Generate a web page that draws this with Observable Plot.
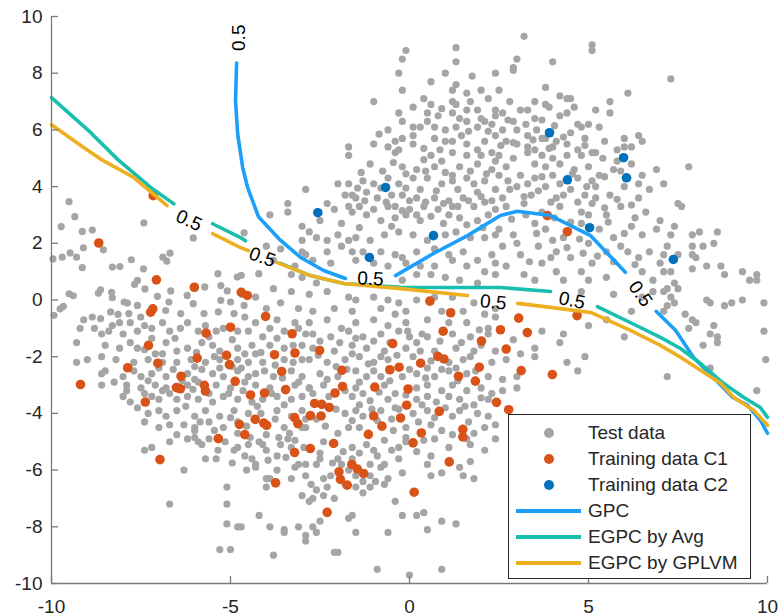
<!DOCTYPE html>
<html>
<head>
<meta charset="utf-8">
<script src="https://cdn.jsdelivr.net/npm/d3@7"></script>
<script src="https://cdn.jsdelivr.net/npm/@observablehq/plot@0.6"></script>
<style>
  body { margin: 0; background: #fff; }
  #wrap { position: relative; width: 780px; height: 616px; overflow: hidden; }
  #legend { position: absolute; left: 508px; top: 414px; width: 243px; height: 165px; box-sizing: border-box;
            border: 1px solid #262626; background: #fff;
            font-family: "Liberation Sans", Arial, sans-serif; font-size: 19px; color: #262626; }
  .item { position: absolute; left: 0; width: 100%; height: 26px; }
  .mk { position: absolute; left: 35px; top: 8px; width: 10px; height: 10px; border-radius: 50%; }
  .ln { position: absolute; left: 7px; top: 11px; width: 65px; height: 4px; }
  .tx { position: absolute; left: 79px; top: 2px; line-height: 22px; white-space: nowrap; }
</style>
</head>
<body>
<div id="wrap"></div>
<script>
// ---------- data ----------
const xTicks = [-10, -5, 0, 5, 10];
const yTicks = [-10, -8, -6, -4, -2, 0, 2, 4, 6, 8, 10];
const contourLevel = "0.5";

// Test data (grey)
const testData = [
[-9.51,3.47],[-9.35,2.94],[-9.73,2.59],[-9.14,2.42],[-8.86,2.47],[-9.96,1.45],[-9.70,1.51],[-9.48,1.66],[-9.30,1.51],[-9.11,1.84],[-9.14,1.14],[-8.55,1.77],[-8.30,1.16],[-8.09,1.18],[-7.77,1.42],[-7.43,1.10],[-7.42,2.72],[-6.69,1.65],[-6.89,1.51],[-6.78,1.37],[-6.04,2.19],[-7.60,0.69],[-7.39,0.39],[-7.68,0.55],[-8.63,0.36],[-8.69,0.24],[-8.32,0.27],[-8.30,0.08],[-7.97,-0.07],[-7.88,-0.11],[-7.60,-0.19],[-9.51,0.22],[-9.39,0.15],[-9.76,-0.31],[-9.67,-0.22],[-9.93,-0.54],[-8.86,-0.60],[-8.63,-0.66],[-8.35,-0.42],[-8.14,-0.51],[-7.84,-0.48],[-7.04,0.13],[-6.67,0.32],[-6.72,-0.07],[-6.21,0.16],[-6.04,-0.13],[-5.72,0.46],[-5.35,0.93],[-5.27,0.51],[-5.09,0.32],[-5.27,-0.01],[-5.00,-0.07],[-4.81,0.81],[-4.70,0.87],[-4.67,0.20],[-4.30,0.10],[-4.62,-0.19],[-4.60,-0.60],[-4.90,-0.48],[-5.34,-0.42],[-5.74,-0.48],[-6.39,-0.48],[-6.81,-0.37],[-4.62,2.37],[-4.21,0.93],[-7.51,-0.60],
[-1.7,5.1],[-0.4,5.2],[0.6,5.1],[1.2,5.2],[1.6,5.1],[2.0,5.1],[2.3,5.2],[2.4,4.9],
[-1.1,4.8],[-0.2,4.7],[0.2,4.6],[0.7,4.7],[1.0,4.5],[1.4,4.7],[1.9,4.8],[2.3,4.6],[2.5,4.4],
[-2.9,3.9],[-2.0,4.1],[-1.7,4.1],[-1.3,4.2],[-1.0,4.1],[-0.6,4.3],[-0.3,4.1],[0.1,4.3],[0.5,4.3],[0.9,4.1],[1.2,4.2],[1.6,4.3],[2.1,4.2],[2.4,3.9],
[-1.8,3.7],[-1.6,3.7],[-1.5,3.6],[-1.2,3.8],[-0.9,3.6],[-0.5,3.7],[-0.2,3.7],[0.2,3.6],[0.7,3.6],[1.1,3.5],[1.5,3.6],[1.9,3.8],[2.3,3.5],
[-3.4,3.4],[-2.3,3.4],[-1.7,3.3],[-1.4,3.3],[-1.0,3.2],[-0.6,3.3],[-0.4,3.3],[0.0,3.2],[0.4,3.3],[0.8,3.2],[1.2,3.3],[1.8,3.3],[2.4,3.2],
[-3.4,3.1],[-3.9,3.0],[-3.0,2.6],[-2.8,2.4],[-1.9,2.7],[-1.6,3.1],[-1.2,3.0],[-0.8,2.8],[-0.4,2.9],[-0.1,3.0],[0.3,2.8],[1.1,3.0],[1.4,2.9],[1.9,2.8],[2.2,3.0],
[-3.0,2.1],[-2.6,2.2],[-2.3,2.1],[-2.0,2.3],[-1.7,2.1],[-1.5,2.2],[-1.1,2.1],[-0.7,2.3],[-0.3,2.4],[0.1,2.3],[0.5,2.1],[1.0,2.3],[1.3,2.4],[1.7,2.2],[2.1,2.2],[2.4,2.3],
[-4.0,1.9],[-3.6,1.8],[-3.0,1.7],[-2.9,1.6],[-2.3,1.7],[-1.9,1.9],[-1.6,1.7],[-1.3,1.7],[-0.8,1.7],[-0.4,1.6],[-0.2,1.5],[0.2,1.7],[0.7,1.8],[1.1,1.6],[1.5,1.7],[1.9,1.4],[2.3,1.6],
[-3.8,1.4],[-3.2,1.2],[-2.7,1.4],[-2.2,1.3],[-1.5,1.4],[-1.0,1.3],[-0.6,1.2],[-0.1,1.3],[0.3,1.2],[0.7,1.2],[1.2,1.4],[1.6,1.2],[2.1,1.0],[2.4,1.3],
[-3.3,0.9],[-3.0,0.8],[-2.6,0.6],[-0.2,0.7],[0.2,0.9],[0.6,0.9],[1.0,0.8],[1.4,0.7],[1.9,0.6],[2.4,0.9],
[-3.8,0.4],[-3.3,0.3],[-2.8,0.2],[-2.3,0.3],[-1.7,0.1],[-1.5,0.0],[-1.0,0.1],[-0.6,0.0],[-0.3,-0.1],[0.2,0.0],[0.7,0.1],[1.2,0.1],[1.8,-0.1],[2.4,-0.3],
[-4.0,-0.3],[-3.6,-0.1],[-3.1,-0.3],[-2.7,-0.4],[-2.1,-0.3],[-1.6,-0.4],[-0.8,-0.3],[-0.4,-0.5],[-0.1,-0.4],[0.9,-0.4],[1.5,-0.4],[2.1,-0.5],[2.4,-0.6],
[-3.7,-0.7],[-3.2,-0.8],[-2.8,-0.8],[-2.3,-0.7],[-1.9,-1.0],[-1.5,-0.8],[-1.0,-0.7],[-0.6,-0.9],[-0.1,-0.8],[0.5,-0.7],[1.1,-0.8],[1.6,-0.8],[2.2,-1.0],
[3.2,9.3],[1.3,8.9],[-0.1,8.8],[1.3,8.4],[-0.2,8.5],[5.1,9.0],[5.1,8.8],[3.0,8.5],[2.9,8.2],[2.9,8.1],[2.4,8.0],[1.0,8.0],[-0.3,8.0],[4.0,8.4],[7.3,7.8],[1.3,7.6],[-0.2,7.4],[2.5,7.4],[1.2,7.4],[4.2,7.2],[4.4,7.1],[4.5,7.1],[3.5,7.0],[3.3,6.7],[2.0,7.4],[2.2,7.1],[-1.0,7.0],[1.2,7.0],[1.3,6.9],[1.7,7.0],[0.6,6.9],[0.1,6.8],[-0.3,6.6],[-0.2,6.3],[3.9,6.8],[4.2,6.5],[5.2,6.7],[5.6,7.0],[5.6,6.6],[6.1,7.3],[0.5,6.3],[0.8,6.5],[1.2,6.6],[1.4,6.4],[1.6,6.7],[2.0,6.4],[2.4,6.7],[2.6,6.6],[2.1,6.3],[2.3,6.2],[2.4,6.5],[2.9,6.3],[3.1,6.7],[3.5,6.4],[3.8,6.9],[0.1,6.1],[0.3,6.1],[0.7,6.1],[1.0,6.0],[1.3,6.1],[1.6,6.3],[1.9,6.1],[2.6,6.0],[3.0,6.0],[3.3,5.8],[3.7,5.7],[4.7,6.2],[4.8,6.1],[5.0,6.2],[5.3,6.1],[4.9,5.7],[4.5,5.9],[-0.4,5.6],[-0.2,5.7],[0.1,5.8],[0.7,5.7],[1.0,5.6],[1.2,5.6],[1.6,5.5],[2.1,5.6],[2.4,5.8],[2.7,5.6],[4.1,5.6],[4.4,5.5],[5.2,5.2],[5.8,5.3],[6.0,5.7],[6.4,5.8],[6.5,5.6],[7.8,4.7],[-1.7,5.4],[-1.0,5.5],[-0.6,5.4],[-0.3,5.3],[0.1,5.5],[3.0,5.5],[3.3,5.4],[3.5,5.3],[3.8,5.7],[4.0,5.4],[4.7,5.3],[6.0,5.4],[6.2,5.4],
[2.5,5.1],[2.9,5.0],[3.3,5.2],[3.7,5.1],[4.0,5.0],[4.4,5.1],[4.8,5.1],[5.1,5.2],[5.4,5.0],[5.8,4.9],[6.2,4.8],[6.5,4.4],[6.9,4.6],[7.5,3.4],[7.6,3.3],[3.5,4.8],[3.8,4.7],[4.2,4.8],[4.6,4.6],[5.0,4.7],[5.3,4.4],[5.7,4.6],[6.1,4.3],[2.7,4.7],[3.1,4.4],[3.5,4.3],[4.0,4.4],[4.7,4.3],[5.1,4.2],
[2.6,3.6],[3.0,4.0],[3.4,3.7],[3.8,4.0],[4.1,3.6],[4.5,3.9],[4.9,3.7],[5.2,4.0],[5.6,3.7],[6.0,4.0],[6.4,3.6],[6.7,3.9],[7.1,4.1],
[2.7,3.3],[3.2,3.4],[3.7,3.1],[4.2,3.3],[4.8,3.1],[5.1,3.4],[5.5,3.0],[5.9,3.3],[6.3,2.9],[6.6,3.1],[7.0,2.8],
[2.5,2.5],[2.9,2.3],[3.5,2.7],[3.8,2.5],[4.3,2.2],[4.8,2.7],[5.3,2.5],[5.7,2.2],[6.2,2.6],[6.5,2.3],[6.9,2.5],
[2.6,1.9],[3.1,1.6],[3.6,1.9],[4.1,1.7],[4.5,1.5],[5.0,2.0],[5.5,1.7],[5.9,1.9],[6.4,1.5],[6.7,1.7],
[2.7,1.2],[3.2,0.9],[3.7,1.3],[4.1,1.0],[4.8,1.0],[5.1,1.3],[5.5,0.8],[6.5,1.0],[6.8,0.7],
[3.5,0.7],[4.3,0.7],[4.8,0.3],[5.0,0.7],[5.7,0.2],[6.2,-0.4],[6.5,0.1],[6.8,0.3],
[4.3,-1.2],[4.2,-1.5],[4.4,-2.2],[4.7,-2.5],[4.9,-2.0],[6.0,-1.3],[5.0,-0.9],[5.5,-0.7],
[7.4,2.6],[7.3,2.3],[7.9,2.3],[8.1,2.4],[8.6,2.4],[8.5,2.0],[8.2,1.9],[7.9,1.9],[7.9,1.6],[8.0,1.5],[7.2,1.9],[7.5,1.6],[7.1,1.6],[7.0,1.3],[7.1,1.0],[7.3,1.0],[7.4,0.6],[7.5,0.4],[7.2,0.4],[7.1,0.3],[7.3,0.1],[7.4,-0.1],[7.2,-0.2],[7.1,-0.4],[7.7,-0.5],[7.9,-0.7],[8.0,-0.8],[8.5,-0.9],[7.8,-1.0],[8.3,0.0],[8.4,-0.1],[8.8,-0.2],[9.0,-0.1],[9.3,0.0],[9.9,-0.1],[8.7,1.2],[8.8,0.9],[9.3,1.0],[9.5,0.7],[9.7,0.9],[9.7,0.7],[8.3,1.2],[7.9,1.1],[8.6,-1.3],[8.6,-1.5],[8.2,-1.6],[8.4,-1.2],[9.95,-2.1],[9.9,-1.1],[8.4,-2.4],[7.2,-2.7],[9.7,-3.2],
[-9.3,-1.5],[-9.1,-0.7],[-9.2,-1.0],[-8.8,-1.0],[-8.6,-1.2],[-8.4,-1.1],[-8.3,-0.9],[-8.1,-0.8],[-7.8,-0.8],[-7.6,-1.1],[-7.4,-0.9],[-7.2,-1.0],[-6.9,-0.8],[-6.7,-1.1],[-6.4,-1.0],[-6.2,-0.8],[-5.9,-1.1],[-5.7,-0.9],[-5.4,-1.1],[-5.2,-1.0],[-4.8,-1.1],[-4.5,-1.1],[-4.3,-0.8],[-3.9,-1.0],[-3.5,-1.1],[-3.1,-1.0],[-2.9,-1.2],
[-9.0,-2.1],[-9.3,-2.2],[-8.5,-1.6],[-8.1,-1.7],[-7.8,-1.5],[-7.6,-1.7],[-7.1,-1.9],[-6.8,-1.5],[-6.5,-1.8],[-6.2,-1.7],[-5.8,-1.5],[-5.5,-1.6],[-5.3,-1.8],[-4.8,-1.7],[-4.4,-1.6],[-4.3,-1.9],[-3.9,-1.6],[-3.5,-1.7],[-3.0,-1.6],[-8.6,-2.0],[-8.2,-2.1],[-7.7,-2.2],[-7.3,-2.1],[-6.9,-2.2],[-6.5,-2.2],[-6.1,-2.1],[-5.7,-2.2],[-5.3,-2.1],[-4.8,-2.1],[-4.5,-2.2],[-4.1,-2.2],[-3.5,-2.1],[-3.0,-2.1],
[-8.6,-2.6],[-8.5,-2.5],[-8.0,-2.7],[-7.7,-2.5],[-7.5,-2.7],[-7.2,-2.6],[-7.0,-2.4],[-6.8,-2.7],[-6.2,-2.6],[-6.0,-2.8],[-5.5,-2.6],[-5.2,-2.7],[-4.8,-2.5],[-4.5,-2.7],[-4.3,-2.6],[-3.8,-2.7],[-3.3,-2.5],[-3.0,-2.7],[-7.9,-3.0],[-7.5,-3.1],[-7.1,-3.0],[-6.8,-3.1],[-6.2,-3.0],[-5.9,-2.9],[-5.4,-3.0],[-5.0,-3.1],[-4.6,-2.9],[-4.3,-3.0],[-3.9,-3.1],[-3.1,-2.9],[-2.8,-3.1],
[-8.6,-3.0],[-7.8,-3.6],[-7.9,-3.2],[-7.4,-3.3],[-7.2,-3.4],[-7.0,-3.5],[-6.7,-3.3],[-6.2,-3.4],[-5.9,-3.5],[-5.6,-3.3],[-5.2,-3.4],[-4.8,-3.5],[-4.4,-3.6],[-4.1,-3.5],[-3.7,-3.4],[-3.3,-3.5],[-3.0,-3.4],[-7.0,-3.9],[-6.8,-4.1],[-6.5,-3.9],[-6.0,-4.1],[-5.7,-3.9],[-5.3,-4.1],[-4.9,-3.9],[-4.5,-4.0],[-3.7,-3.9],[-3.3,-4.1],[-3.0,-3.9],[-7.4,-4.3],[-7.0,-4.5],[-6.3,-4.4],[-6.0,-4.5],[-5.6,-4.3],[-5.2,-4.5],[-4.8,-4.3],[-3.5,-4.5],[-3.0,-4.5],
[-2.7,-1.2],[-2.2,-1.3],[-1.7,-1.1],[-1.3,-1.3],[-0.8,-1.2],[-0.3,-1.1],[0.0,-1.3],[0.5,-1.3],[1.2,-1.2],[1.7,-1.3],[2.2,-1.2],[2.9,-1.4],[3.5,-1.7],[3.7,-1.1],[-2.7,-1.7],[-2.1,-1.8],[-1.6,-1.6],[-1.2,-1.7],[-0.7,-1.8],[-0.1,-1.7],[0.2,-1.5],[0.7,-1.8],[1.3,-1.7],[1.8,-1.8],[2.4,-1.8],[3.1,-1.9],
[-2.8,-2.1],[-2.3,-2.2],[-1.8,-2.1],[-1.4,-2.0],[-1.0,-2.2],[-0.6,-2.1],[0.1,-2.0],[0.5,-2.4],[1.1,-2.2],[1.5,-2.1],[2.3,-2.2],[2.7,-2.1],[3.5,-2.0],[-2.5,-2.6],[-2.0,-2.7],[-1.5,-2.5],[-1.2,-2.7],[-0.8,-2.7],[-0.2,-2.7],[0.2,-2.6],[0.7,-2.7],[1.1,-2.5],[1.6,-2.6],[2.2,-2.7],[2.6,-2.8],[3.0,-2.7],
[-2.8,-3.1],[-2.4,-3.0],[-1.5,-3.1],[-1.3,-3.3],[-0.7,-3.0],[-0.4,-3.3],[0.2,-3.1],[0.5,-3.0],[0.9,-3.2],[1.2,-3.0],[1.6,-3.2],[2.0,-3.1],[2.3,-3.3],[2.6,-3.2],[3.0,-3.1],[-1.6,-3.4],[-1.4,-3.7],[-0.6,-3.5],[-0.4,-3.8],[0.2,-3.5],[0.5,-3.4],[1.1,-3.4],[1.4,-3.5],[1.8,-3.7],[2.2,-3.5],[-2.7,-3.3],
[-2.9,-4.5],[-2.6,-4.2],[-1.8,-4.0],[-1.5,-3.9],[-1.3,-4.1],[-0.8,-3.9],[-0.5,-4.2],[0.1,-4.0],[0.5,-3.9],[1.2,-4.1],[1.4,-3.9],[1.9,-4.0],[2.2,-4.1],[-1.7,-4.5],[-0.1,-4.5],[0.6,-4.4],[0.9,-4.6],[1.8,-4.7],[2.1,-4.5],[2.4,-4.4],
[0.7,-4.9],[1.1,-5.2],[1.7,-5.1],[2.1,-5.3],[2.4,-4.9],[0.5,-5.8],[0.9,-6.1],[1.4,-5.9],[1.7,-5.7],[0.6,-6.2],[1.5,-6.2],[1.8,-6.3],
[-6.7,-5.0],[-6.2,-4.9],[-6.0,-4.6],[-5.9,-5.0],[-5.8,-5.1],[-5.7,-5.6],[-5.4,-5.6],[-5.1,-6.6],[-5.1,-7.2],[-4.8,-4.7],[-4.8,-5.2],[-4.9,-5.3],[-4.5,-5.1],[-4.6,-5.5],[-4.4,-5.6],[-4.3,-5.9],[-4.3,-5.8],[-4.2,-5.0],[-4.1,-5.1],[-4.0,-5.3],[-3.7,-5.5],[-3.7,-6.0],[-3.9,-6.3],[-4.0,-6.3],[-4.0,-6.6],[-3.6,-5.1],[-3.4,-4.9],[-3.3,-5.2],[-3.1,-5.8],[-3.2,-5.9],[-3.0,-6.9],[-2.9,-5.8],[-2.9,-6.2],[-2.8,-7.1],[-2.7,-7.0],[-2.6,-6.7],[-2.6,-5.8],[-2.5,-5.6],[-2.4,-6.3],[-2.3,-6.6],[-2.4,-6.9],[-2.2,-6.2],[-2.1,-7.0],[-2.0,-5.6],[-1.9,-5.8],[-1.6,-5.6],[-1.6,-5.2],[-1.5,-6.6],[-1.4,-5.4],[-1.3,-6.8],[-1.1,-5.8],[-1.1,-6.2],[-1.0,-5.3],[-0.9,-5.5],[-0.8,-5.9],[-0.7,-5.8],[-0.6,-6.3],[-0.5,-5.3],[-0.4,-7.1],[-0.3,-5.2],[-0.2,-6.1],[-0.2,-7.6],[-0.1,-5.0],[-6.3,-6.0],[-6.7,-7.2],[-5.1,-7.9],[-4.8,-8.0],[-4.7,-8.0],[-4.2,-7.6],[-3.9,-8.0],[-3.5,-8.1],[-3.5,-8.2],[-3.1,-8.0],[-2.9,-8.3],[-2.6,-8.2],[-2.7,-8.0],[-2.5,-7.8],[-1.7,-7.7],[-1.6,-7.6],[-1.5,-8.2],[-0.6,-8.2],[-1.8,-6.5],[-1.5,-6.2],[-1.3,-6.4],[-1.1,-6.6],[-0.7,-6.5],
[-7.4,-5.3],[-7.2,-5.2],
[-5.3,-8.8],[-5.0,-8.8],[-3.8,-9.0],[-2.9,-8.5],[-2.1,-8.9],[-2.0,-8.9],[-0.9,-9.5],[0.0,-9.7],
[0.2,-7.6],[0.4,-7.5],[0.9,-7.8],[1.3,-7.9],[0.5,-8.1],[0.9,-9.5],
[-2.5,-1.45],[-1.95,-1.5],[-1.5,-1.35],[-1.0,-1.45],[-0.55,-1.5],[-0.05,-1.1],[0.35,-1.2],[0.85,-1.45],[1.45,-1.5],[1.95,-1.05],
[-2.55,-1.95],[-2.05,-2.35],[-1.6,-1.9],[-1.15,-2.25],[-0.8,-2.0],[-0.35,-1.95],[0.3,-1.8],[0.6,-2.15],[1.3,-2.4],[1.7,-2.0],[2.0,-1.6],
[-2.3,-2.8],[-1.75,-2.45],[-1.4,-2.9],[-1.0,-2.5],[-0.55,-2.85],[0.0,-2.45],[0.45,-2.75],[0.9,-2.45],[1.35,-2.85],[1.85,-2.5],
[-2.25,-3.4],[-1.8,-3.2],[-1.1,-3.55],[-0.85,-3.25],[-0.1,-3.35],[0.35,-3.7],[0.75,-3.6],[1.55,-3.75],[2.0,-3.45],
[-2.05,-3.85],[-1.6,-4.25],[-1.05,-3.85],[-0.3,-3.85],[0.25,-4.3],[0.7,-4.15],[1.0,-3.8],[1.65,-4.3],
[-2.35,-4.45],[-2.0,-4.7],[-1.4,-4.5],[-0.9,-4.25],[-0.45,-4.6],[-0.1,-4.85],[0.4,-4.95],[1.2,-4.75],[1.6,-4.9],
[-2.4,-5.0],[-1.85,-5.35],[-1.2,-5.1],[-0.7,-4.95],[-0.3,-5.6],[0.2,-5.35],[0.6,-5.5],[-2.5,-5.4],
[-8.0,-1.2],[-7.2,-1.35],[-6.55,-1.35],[-5.95,-1.85],[-5.6,-1.3],[-4.95,-1.4],[-4.6,-1.9],[-4.1,-1.3],[-3.7,-1.35],[-3.25,-1.6],
[-7.4,-1.75],[-6.9,-1.9],[-6.0,-2.35],[-5.45,-2.0],[-4.95,-2.35],[-4.15,-1.85],[-3.75,-2.3],[-3.25,-2.2],
[-8.25,-2.9],[-7.9,-2.4],[-7.3,-2.85],[-6.6,-2.45],[-6.35,-2.85],[-5.8,-2.45],[-5.3,-2.4],[-4.7,-2.4],[-4.05,-2.5],[-3.55,-2.75],[-3.2,-3.0],
[-8.0,-3.4],[-7.6,-3.8],[-6.9,-3.2],[-6.5,-3.5],[-6.05,-3.15],[-5.5,-3.6],[-5.05,-3.3],[-4.65,-3.2],[-4.25,-3.75],[-3.85,-3.3],[-3.5,-3.7],
[-7.3,-4.0],[-6.7,-4.4],[-6.25,-3.75],[-5.85,-4.3],[-5.45,-4.6],[-5.0,-4.15],[-4.55,-4.45],[-4.15,-4.0],[-3.75,-4.2],[-3.35,-4.7],[-2.9,-4.2],
[-6.5,-4.75],[-6.0,-4.85],[-5.6,-4.9],[-5.15,-5.0],[-4.45,-4.85],[-4.0,-4.75],[-3.65,-4.85],[-3.2,-4.95],[-2.95,-5.2],
[-5.35,-5.3],[-4.95,-5.75],[-4.55,-6.0],[-3.95,-5.65],[-3.45,-5.55],[-3.3,-6.3],[-2.75,-6.5],[-2.15,-5.75],[-1.7,-6.0],[-0.95,-6.4],
[-0.75,4.55],[-0.45,4.85],[0.4,4.95],[0.9,4.9],[1.7,4.55],[2.15,4.45],[-1.35,4.5],[-0.1,4.45],[0.45,4.55],[1.2,4.4],[1.8,4.1],
[-1.45,3.95],[-0.8,3.95],[0.3,3.9],[0.75,3.85],[1.35,3.9],[2.0,3.65],[-0.1,3.95],
[-1.25,3.5],[-0.65,3.45],[0.0,3.5],[0.45,3.45],[0.95,3.4],[1.35,3.3],[1.65,3.5],[2.1,3.45],
[-2.1,3.2],[-0.2,3.15],[0.2,3.0],[0.6,2.95],[0.95,2.7],[1.6,2.65],[2.05,2.55],[-0.5,2.6],[-1.4,2.55],[-2.5,2.8],
[2.8,3.9],[3.2,3.65],[3.6,3.85],[3.95,3.45],[4.3,3.7],[4.7,3.45],[5.2,3.6],[5.45,3.25],[5.8,3.55],[6.2,3.35],
[2.75,4.2],[3.3,4.1],[3.7,4.35],[4.2,4.1],[4.55,4.45],[4.95,4.0],[5.45,4.35],[5.9,4.55],[6.4,4.1],
[2.85,2.85],[3.25,3.0],[3.55,2.35],[4.05,2.9],[4.5,2.75],[5.0,3.0],[5.55,2.75],[6.0,2.35],[4.75,2.15],[4.0,2.1],
[3.0,2.0],[3.35,1.35],[3.95,1.5],[4.4,1.85],[4.85,1.65],[5.25,1.55],[5.7,1.35],[6.1,1.7],[6.3,1.25],
[2.9,5.55],[3.45,5.65],[3.9,5.35],[4.3,5.75],[4.9,5.45],[5.45,5.6],[2.55,5.45],[1.9,5.3],[1.45,5.8],[0.4,5.35],[0.85,5.3],[-0.85,5.85],
[0.5,6.6],[0.9,6.75],[1.9,6.7],[2.75,6.35],[3.25,6.2],[3.7,6.35],[4.05,6.15],[4.4,6.6],[-0.6,6.0],[0.4,7.1],[1.6,7.3],[2.8,7.0],[3.8,7.5],[1.75,7.9],[0.6,7.7],[4.6,6.8],[2.2,5.95],[1.65,5.95],[3.55,6.0]
];

// Training data C1 (red)
const trainC1 = [
[-7.16,3.68],[-8.68,2.01],[-7.07,0.71],[-6.01,0.45],[-4.70,0.27],[-4.53,0.16],[-7.17,-0.31],[-7.23,-0.43],[-4.02,-0.58],[-5.00,-0.96],[-5.68,-1.17],[-3.28,-1.19],[-7.29,-1.60],[-5.93,-2.05],[-5.11,-1.95],[-5.03,-2.28],[-3.77,-1.93],[-3.20,-1.87],[-7.03,-2.23],[-7.87,-2.39],[-3.57,-2.52],[-6.38,-2.69],[-4.87,-2.87],[-9.19,-2.98],[-5.73,-3.01],[-5.70,-3.21],[-6.51,-3.09],[-6.40,-3.13],[-3.46,-3.16],[-4.05,-3.28],[-4.44,-3.35],[-7.38,-3.60],[-4.75,-4.39],[-4.31,-4.21],[-4.07,-4.34],[-3.99,-4.42],[-3.21,-4.15],[-3.12,-4.36],
[0.57,-0.04],[1.15,-0.45],[3.05,-0.64],[0.94,-1.10],[2.54,-1.05],[3.29,-1.15],[2.01,-1.45],[-0.47,-1.54],[-2.51,-1.78],[2.70,-1.73],[0.79,-1.99],[0.96,-2.08],[0.31,-2.23],[-0.29,-2.37],[-0.55,-2.46],[1.95,-2.37],[3.12,-2.49],[3.99,-2.63],[-1.89,-2.48],[1.37,-2.69],[1.84,-2.86],[-1.87,-3.05],[-0.97,-3.07],[-0.04,-3.14],[-2.08,-3.28],[-2.65,-3.65],[-2.45,-3.68],[-2.24,-3.79],[-0.08,-3.71],[2.43,-3.61],[2.77,-3.87],[-2.77,-4.08],[-2.47,-4.09],[0.83,-3.93],[-1.00,-4.09],[-0.25,-4.16],[-0.77,-4.45],[-1.15,-4.74],[0.33,-4.69],[1.49,-4.56],[1.49,-4.83],[0.10,-5.04],[-2.12,-5.06],[-2.77,-5.24],[1.11,-5.71],[-1.61,-5.80],[-1.46,-5.96],[-1.28,-6.12],[-1.97,-6.06],[-1.93,-6.33],[-4.60,-4.75],[-5.34,-4.89],[-6.97,-5.63],[-3.21,-5.38],[-3.74,-6.45],[-1.74,-6.53],[-2.30,-7.49],[0.13,-6.78],[3.85,2.98],[4.41,2.41],[4.68,-0.55]
];

// Training data C2 (blue)
const trainC2 = [[-2.56,3.08],[-0.67,3.97],[-1.12,1.50],[0.67,2.27],[3.91,5.90],[4.41,4.24],[5.98,5.02],[6.06,4.31],[5.03,2.55],[7.37,1.43]];

// 0.5 decision contours (segments broken at the labels)
const gpcContour = [
  [[-4.83,8.36],[-4.86,7.02],[-4.80,5.86],[-4.66,4.67],[-4.52,3.96],[-4.22,2.94],[-3.60,2.10],[-3.04,1.50],[-2.40,1.04],[-1.79,0.76]],
  [[-0.39,0.86],[0.67,1.64],[1.62,2.27],[2.54,2.98],[3.01,3.13],[3.94,2.98],[5.06,2.27],[6.03,0.98]],
  [[6.89,-0.40],[7.01,-0.55],[7.43,-1.07],[7.93,-2.02],[8.49,-2.73],[9.02,-3.43],[9.44,-3.71],[9.80,-4.24],[10.0,-4.70]]
];
const avgContour = [
  [[-10,7.14],[-8.91,5.91],[-8.16,4.97],[-7.23,3.97],[-6.58,3.39]],
  [[-5.50,2.69],[-4.72,2.20],[-4.58,2.09]],
  [[-3.60,1.29],[-2.77,0.86],[-1.84,0.58],[-0.25,0.45],[1.15,0.44],[2.54,0.44],[3.94,0.30]],
  [[5.25,-0.23],[6.45,-0.97],[7.01,-1.32],[7.57,-1.71],[8.13,-2.24],[8.77,-2.94],[9.33,-3.43],[9.80,-3.79],[10.0,-4.14]]
];
const gplvmContour = [
  [[-10,6.18],[-9.10,5.38],[-8.63,4.97],[-7.70,4.32],[-6.77,3.33]],
  [[-5.50,2.34],[-4.72,1.85],[-4.50,1.74]],
  [[-3.69,1.32],[-2.77,0.86],[-1.84,0.58],[-0.25,0.40],[1.62,0.16]],
  [[3.02,-0.12],[3.94,-0.26],[5.06,-0.44],[6.17,-1.07],[7.01,-1.60],[7.57,-2.02],[8.13,-2.48],[8.69,-2.94],[9.05,-3.43],[9.61,-3.89],[9.80,-4.14],[10.0,-4.42]]
];
// contour label positions [x, y, angle]
const contourLabels = [[-4.77,9.25,-90],[-6.16,2.80,25],[-4.11,1.51,20],[-1.09,0.75,3],[2.34,-0.08,6],[4.54,-0.02,12],[6.45,0.22,55]];

const seriesNames = ["Test data", "Training data C1", "Training data C2", "GPC", "EGPC by Avg", "EGPC by GPLVM"];
const colors = {test: "#a5a5a5", c1: "#d95319", c2: "#0072bd", gpc: "#1c9ffa", avg: "#19bfae", gplvm: "#eeb021"};

// ---------- chart ----------
const flat = segs => segs.flatMap((s, i) => s.map(([x, y]) => ({x, y, seg: i})));
const font = '"Liberation Sans", Arial, Helvetica, sans-serif';
const axisGray = "#7a7a7a";

const chart = Plot.plot({
  width: 780, height: 616,
  marginLeft: 51, marginRight: 13, marginTop: 16, marginBottom: 33,
  x: {domain: [-10, 10]},
  y: {domain: [-10, 10]},
  style: {fontFamily: font, fontSize: "19px", color: "#262626", background: "#fff", overflow: "visible"},
  marks: [
    Plot.dot(testData, {x: d => d[0], y: d => d[1], r: 3.6, fill: colors.test}),
    Plot.dot(trainC1, {x: d => d[0], y: d => d[1], r: 4.8, fill: colors.c1}),
    Plot.dot(trainC2, {x: d => d[0], y: d => d[1], r: 4.8, fill: colors.c2}),
    Plot.line(flat(gpcContour), {x: "x", y: "y", z: "seg", stroke: colors.gpc, strokeWidth: 3.6}),
    Plot.line(flat(avgContour), {x: "x", y: "y", z: "seg", stroke: colors.avg, strokeWidth: 3.6}),
    Plot.line(flat(gplvmContour), {x: "x", y: "y", z: "seg", stroke: colors.gplvm, strokeWidth: 3.6}),
    Plot.text(contourLabels, {x: d => d[0], y: d => d[1], rotate: d => d[2], text: () => contourLevel,
      fontSize: 19, fill: "#000", fontFamily: font}),
    Plot.ruleX([-10], {stroke: axisGray, strokeWidth: 1.3}),
    Plot.ruleY([-10], {stroke: axisGray, strokeWidth: 1.3}),
    Plot.axisX({ticks: xTicks, tickSize: -7, tickPadding: 23, tickFormat: d => String(d), label: null,
      stroke: axisGray, fill: "#262626", fontSize: 19, strokeWidth: 1.3}),
    Plot.axisY({ticks: yTicks, tickSize: -7, tickPadding: 16, tickFormat: d => String(d), label: null,
      stroke: axisGray, fill: "#262626", fontSize: 19, strokeWidth: 1.3})
  ]
});

const wrap = document.getElementById("wrap");
wrap.appendChild(chart);

// ---------- legend ----------
const legend = document.createElement("div");
legend.id = "legend";
const kinds = [["mk", colors.test], ["mk", colors.c1], ["mk", colors.c2], ["ln", colors.gpc], ["ln", colors.avg], ["ln", colors.gplvm]];
const rowTop = [5, 31, 57, 83, 109, 135];
seriesNames.forEach((name, i) => {
  const item = document.createElement("div");
  item.className = "item";
  item.style.top = rowTop[i] + "px";
  const sym = document.createElement("div");
  sym.className = kinds[i][0];
  sym.style.background = kinds[i][1];
  const tx = document.createElement("div");
  tx.className = "tx";
  tx.textContent = name;
  item.appendChild(sym);
  item.appendChild(tx);
  legend.appendChild(item);
});
wrap.appendChild(legend);
</script>
</body>
</html>
